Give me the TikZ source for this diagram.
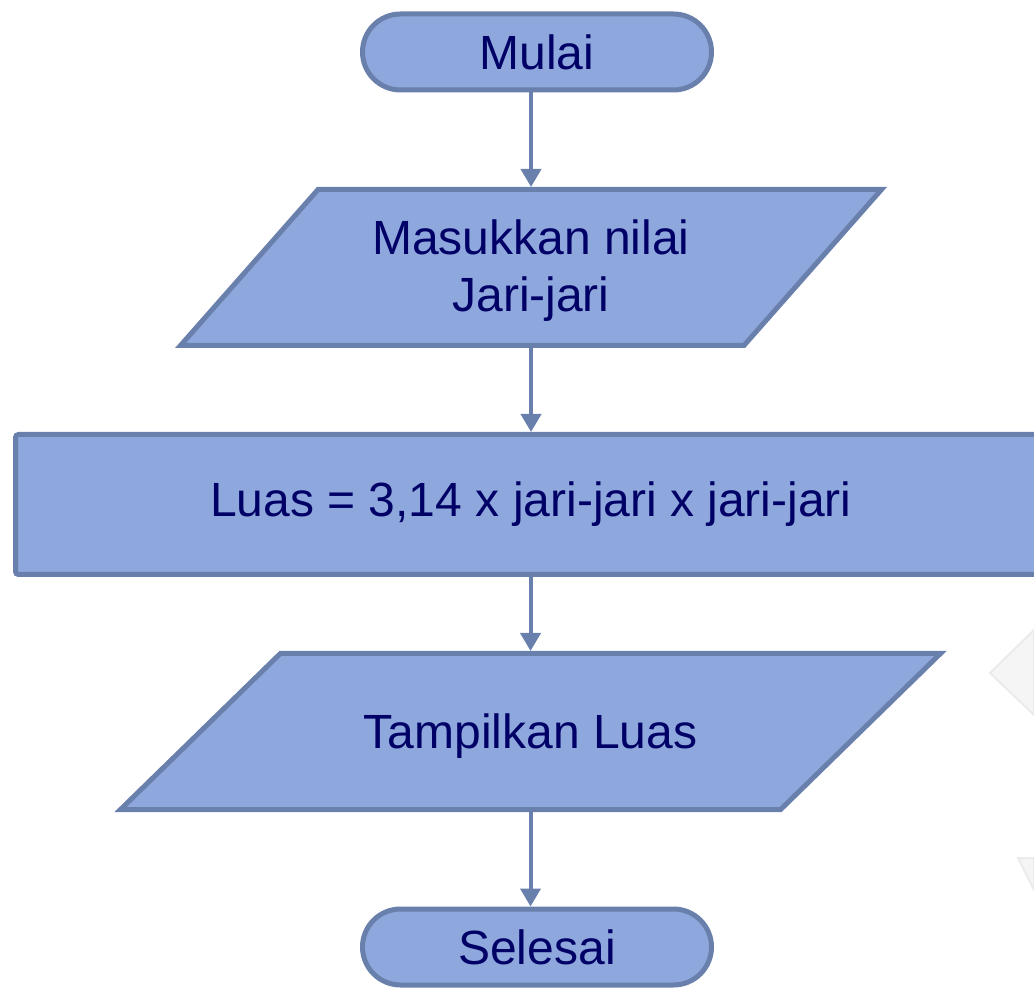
\documentclass[tikz,border=0pt]{standalone}
\usepackage{fontspec}
\setmainfont{Liberation Sans}
\usetikzlibrary{arrows.meta,shapes.geometric}

\definecolor{boxfill}{RGB}{142,167,220}
\definecolor{boxline}{RGB}{106,128,172}
\definecolor{boxtext}{RGB}{0,0,102}

\begin{document}
\begin{tikzpicture}[->,>={Triangle[width=10pt,length=9pt]},line width=2pt,draw=boxline,
    base/.style={draw=boxline,fill=boxfill,line width=2.5pt,text=boxtext,font=\fontsize{24}{28.5}\selectfont,inner sep=0pt,align=center},
    terminal/.style={base,rectangle,rounded corners=19pt,minimum width=174.5pt,minimum height=38pt},
    io/.style={base,trapezium,trapezium stretches body},
    process/.style={base,rectangle,rounded corners=1.5pt,minimum width=515.5pt,minimum height=70pt}]
            \useasboundingbox (0,0) rectangle (517pt,-494pt);
            % faint background marks at the right edge
            \filldraw[fill=black!4,draw=black!8,line width=1pt] (495pt,-336.5pt) -- (517pt,-315pt) -- (517pt,-357.5pt) -- cycle;
            \filldraw[fill=black!4,draw=black!8,line width=1pt] (509pt,-429pt) -- (517pt,-429pt) -- (517pt,-445pt) -- cycle;

            \node[terminal] (1) at (268.5pt,-26pt) {Mulai};
            \node[io,trapezium left angle=48.6,trapezium right angle=131.4,minimum width=350.5pt,text height=61pt,text depth=17pt] (2) at (265.5pt,-133.75pt) {Masukkan nilai\\Jari-jari};
            \node[process] (3) at (265.5pt,-252.25pt) {Luas = 3,14 x jari-jari x jari-jari};
            \node[io,trapezium left angle=44.3,trapezium right angle=135.7,minimum width=410pt,text height=47.6pt,text depth=30.4pt] (4) at (265.25pt,-365.75pt) {Tampilkan Luas};
            \node[terminal] (5) at (268.5pt,-473.5pt) {Selesai};

            \draw[boxline] (2.north |- 1.south) -- (2.north);
            \draw[boxline] (2.south) -- (3.north -| 2.south);
            \draw[boxline] (3.south -| 4.north) -- (4.north);
            \draw[boxline] (4.south) -- (5.north -| 4.south);
        \end{tikzpicture}
\end{document}
